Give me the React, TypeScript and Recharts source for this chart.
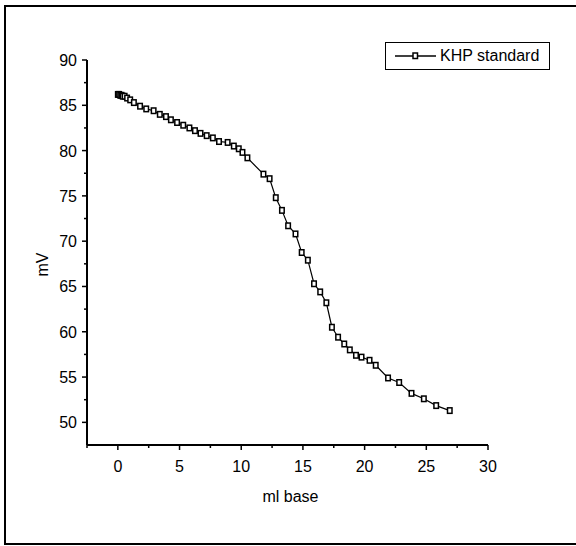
import { LineChart, Line, XAxis, YAxis, Legend } from 'recharts';

// titration readings: ml of base added vs electrode mV
const mlBase = [
  0, 0.1, 0.2, 0.3, 0.4, 0.55, 0.75, 1.0, 1.3, 1.8, 2.3, 2.9, 3.4, 3.9, 4.3, 4.8, 5.3, 5.8,
  6.25, 6.7, 7.2, 7.7, 8.2, 8.9, 9.4, 9.8, 10.1, 10.5, 11.8, 12.3, 12.8, 13.3, 13.8, 14.4,
  14.9, 15.4, 15.9, 16.4, 16.9, 17.35, 17.85, 18.35, 18.8, 19.3, 19.75, 20.4, 20.9, 21.9,
  22.8, 23.8, 24.8, 25.8, 26.9,
];
const mV = [
  86.2, 86.2, 86.1, 86.1, 86.0, 86.0, 85.8, 85.6, 85.3, 84.9, 84.6, 84.4, 84.0, 83.75, 83.4,
  83.1, 82.8, 82.5, 82.2, 81.9, 81.65, 81.4, 81.0, 80.9, 80.5, 80.2, 79.8, 79.2, 77.4, 76.9,
  74.8, 73.4, 71.7, 70.8, 68.75, 67.9, 65.3, 64.4, 63.2, 60.5, 59.4, 58.65, 58.0, 57.4, 57.2,
  56.85, 56.3, 54.9, 54.4, 53.2, 52.6, 51.85, 51.3,
];
const xTicks = [-2.5, 0, 2.5, 5, 7.5, 10, 12.5, 15, 17.5, 20, 22.5, 25, 27.5, 30];
const yTicks = [50, 52.5, 55, 57.5, 60, 62.5, 65, 67.5, 70, 72.5, 75, 77.5, 80, 82.5, 85, 87.5, 90];
const seriesName = 'KHP standard';

const data = mlBase.map((x, i) => ({ x, mv: mV[i] }));

const FONT = '"Liberation Sans", Arial, sans-serif';

const YTick = (props: any) => {
  const { x, y, payload } = props;
  const major = payload.value % 5 === 0;
  return (
    <g>
      <line x1={x} x2={x - (major ? 5 : 3)} y1={y} y2={y} stroke="#000" strokeWidth={1.5} />
      {major && (
        <text x={x - 10} y={y + 6} textAnchor="end" fontSize={16} fontFamily={FONT} fill="#000">
          {payload.value}
        </text>
      )}
    </g>
  );
};

const XTick = (props: any) => {
  const { x, y, payload } = props;
  const major = payload.value % 5 === 0;
  return (
    <g>
      <line x1={x} x2={x} y1={y} y2={y + (major ? 5 : 3)} stroke="#000" strokeWidth={1.5} />
      {major && (
        <text x={x} y={y + 27} textAnchor="middle" fontSize={16} fontFamily={FONT} fill="#000">
          {payload.value}
        </text>
      )}
    </g>
  );
};

const Marker = (p: any) => (
  <rect
    key={`m-${p.index}`}
    x={p.cx - 2.25}
    y={p.cy - 2.75}
    width={4.5}
    height={5.5}
    fill="#fff"
    stroke="#000"
    strokeWidth={1.5}
  />
);

const LegendBox = () => (
  <div
    style={{
      width: 165,
      height: 28,
      boxSizing: 'border-box',
      border: '1.5px solid #000',
      background: '#fff',
      display: 'flex',
      alignItems: 'center',
      fontFamily: FONT,
      fontSize: 16,
    }}
  >
    <svg width={52} height={20} style={{ marginLeft: 9 }}>
      <line x1={0} x2={41} y1={10} y2={10} stroke="#000" strokeWidth={1.5} />
      <rect x={18} y={7} width={4.5} height={5.5} fill="#fff" stroke="#000" strokeWidth={1.5} />
    </svg>
    <span style={{ marginLeft: -7 }}>{seriesName}</span>
  </div>
);

export default function App() {
  return (
    <div
      style={{
        position: 'absolute',
        left: 4,
        top: 5,
        width: 572,
        height: 540,
        boxSizing: 'border-box',
        borderLeft: '2px solid #000',
        borderTop: '2px solid #000',
        borderBottom: '2px solid #000',
        background: '#fff',
      }}
    >
      <LineChart
        width={570}
        height={536}
        data={data}
        margin={{ top: 53, right: 88, left: 21, bottom: 48 }}
      >
        <XAxis
          type="number"
          dataKey="x"
          domain={[-2.5, 30]}
          ticks={xTicks}
          interval={0}
          height={50}
          tickSize={0}
          tickMargin={0}
          tick={<XTick />}
          axisLine={{ stroke: '#000', strokeWidth: 2 }}
          label={{
            content: (props: any) => {
              const vb = props.viewBox;
              return (
                <text
                  x={vb.x + vb.width / 2 + 3}
                  y={vb.y + 57}
                  textAnchor="middle"
                  fontSize={16}
                  fontFamily={FONT}
                  fill="#000"
                >
                  ml base
                </text>
              );
            },
          }}
        />
        <YAxis
          type="number"
          domain={[47.5, 90]}
          ticks={yTicks}
          interval={0}
          width={60}
          tickSize={0}
          tickMargin={0}
          tick={<YTick />}
          axisLine={{ stroke: '#000', strokeWidth: 2 }}
          label={{
            content: (props: any) => {
              const vb = props.viewBox;
              const cx = 42;
              const cy = vb.y + vb.height / 2 + 12;
              return (
                <text
                  x={cx}
                  y={cy}
                  transform={`rotate(-90 ${cx} ${cy})`}
                  textAnchor="middle"
                  fontSize={16}
                  fontFamily={FONT}
                  fill="#000"
                >
                  mV
                </text>
              );
            },
          }}
        />
        <Legend
          layout="horizontal"
          verticalAlign="middle"
          align="center"
          content={<LegendBox />}
          wrapperStyle={{ position: 'absolute', left: 379, top: 35, width: 'auto' }}
        />
        <Line
          type="linear"
          dataKey="mv"
          name={seriesName}
          stroke="#000"
          strokeWidth={1.2}
          dot={Marker}
          activeDot={false}
          isAnimationActive={false}
        />
      </LineChart>
    </div>
  );
}
